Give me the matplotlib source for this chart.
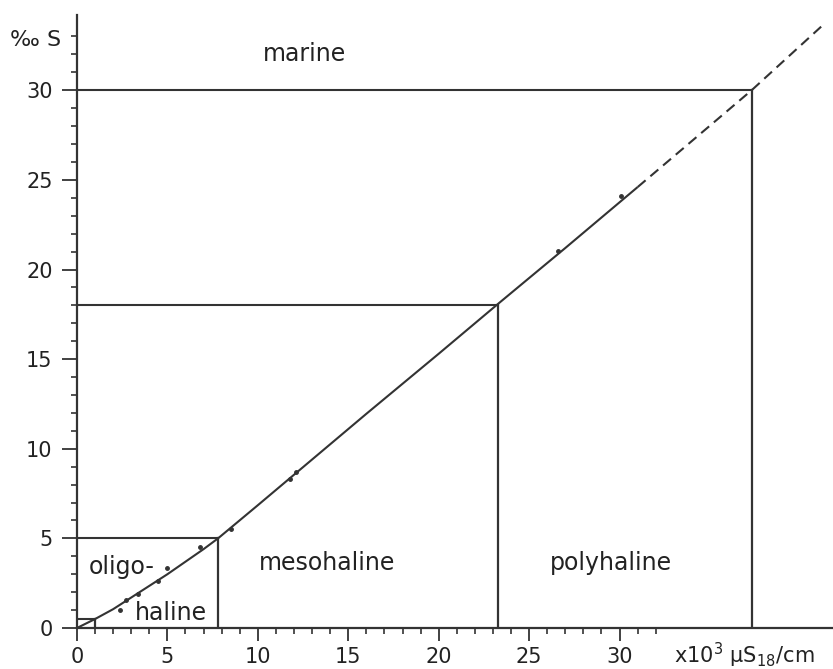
import matplotlib
matplotlib.use("Agg")
import matplotlib.pyplot as plt
import numpy as np

# Calibration curve (conductivity x10^3 uS18/cm vs salinity per mille)
curve_x = [0, 1, 2, 3, 4, 5, 6, 7, 7.8, 10, 13, 16, 20, 23.3, 27, 31]
curve_y = [0, 0.5, 1.05, 1.7, 2.35, 3.0, 3.7, 4.4, 5.0, 6.85, 9.4, 11.95, 15.3, 18.1, 21.2, 24.6]
ext_x = [31, 37.3, 41.2]
ext_y = [24.6, 30.0, 33.6]

# measured points
pts_x = [2.4, 2.7, 3.4, 4.5, 5.0, 6.8, 8.5, 11.8, 12.1, 26.6, 30.1]
pts_y = [1.0, 1.55, 1.9, 2.6, 3.35, 4.5, 5.5, 8.3, 8.7, 21.05, 24.1]

# zone boundaries (salinity limit, conductivity at limit)
bound_s = [0.5, 5, 18, 30]
bound_c = [1.0, 7.8, 23.3, 37.3]

zone_labels = ["marine", "mesohaline", "polyhaline", "oligo-", "haline"]
zone_pos = [(12.6, 32.0), (13.8, 3.6), (29.5, 3.6), (2.5, 3.4), (5.2, 0.85)]

xticks = [0, 5, 10, 15, 20, 25, 30]
yticks = [0, 5, 10, 15, 20, 25, 30]

col = "#333333"
fig = plt.figure(figsize=(8.33, 6.69), dpi=100)
ax = fig.add_axes([0.0924, 0.0613, 0.9076, 0.9163])
ax.set_xlim(0, 41.8)
ax.set_ylim(0, 34.2)

for s in ["top", "right"]:
    ax.spines[s].set_visible(False)
for s in ["left", "bottom"]:
    ax.spines[s].set_linewidth(1.6)
    ax.spines[s].set_color(col)

ax.plot(curve_x, curve_y, color=col, lw=1.5, solid_capstyle="butt")
ax.plot(ext_x, ext_y, color=col, lw=1.5, ls=(0, (5, 3)))
ax.plot(pts_x, pts_y, "o", color=col, ms=2.5)

for s, c in zip(bound_s, bound_c):
    ax.plot([0, c], [s, s], color=col, lw=1.5)
    ax.plot([c, c], [0, s], color=col, lw=1.6)

for t, (x, y) in zip(zone_labels, zone_pos):
    ax.text(x, y, t, ha="center", va="center", fontsize=17, color="#222222")

ax.set_xticks(xticks)
ax.set_xticklabels([str(t) for t in xticks])
ax.set_yticks(yticks)
ax.set_yticklabels([str(t) for t in yticks])
ax.set_xticks(np.arange(1, 33), minor=True)
ax.set_yticks(np.arange(1, 34), minor=True)
ax.tick_params(axis="both", which="major", width=1.3, color=col,
               labelsize=15, labelcolor="#222222")
ax.tick_params(axis="y", which="major", length=11, pad=6.5)
ax.tick_params(axis="x", which="major", length=9, pad=5)
ax.tick_params(axis="y", which="minor", length=4, width=1.2, color=col)
ax.tick_params(axis="x", which="minor", length=4.5, width=1.2, color=col)

fig.text(0.043, 0.94, "‰ S", fontsize=16, ha="center", va="center", color="#222222")
fig.text(0.893, 0.02, r"x$10^3$ µS$_{18}$/cm", fontsize=15, ha="center",
         va="center", color="#222222")

fig.savefig("out.png", dpi=100)
